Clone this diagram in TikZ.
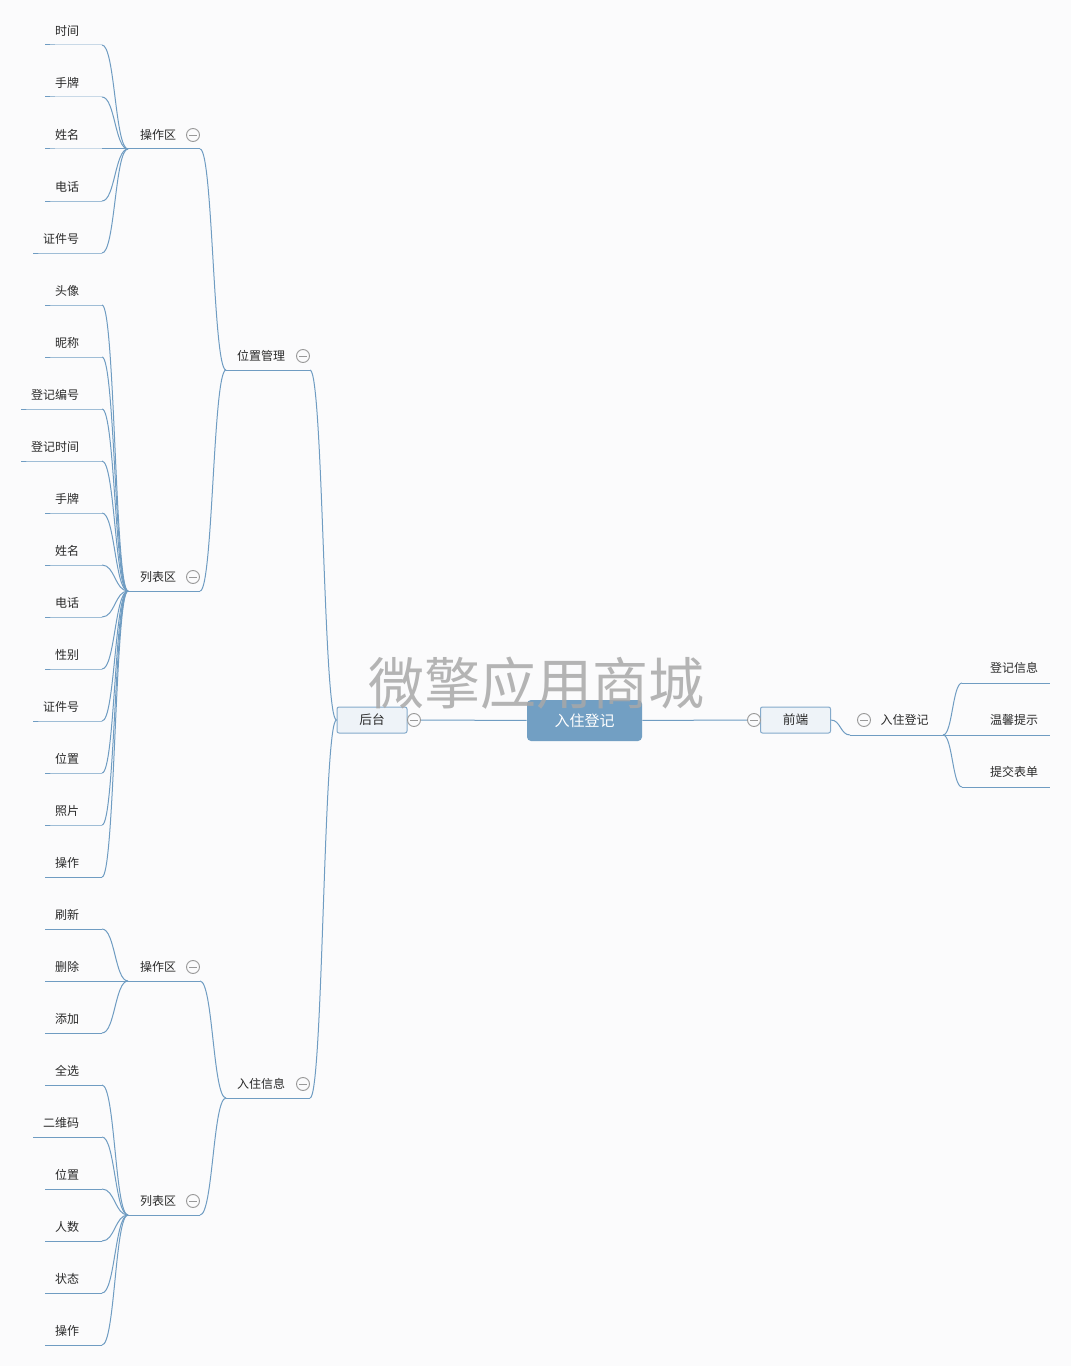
\documentclass[tikz,border=0pt]{standalone}
\usepackage{fontspec}
\setmainfont{Noto Sans CJK SC}
\usetikzlibrary{calc}
\definecolor{linkc}{HTML}{6F9CC2}
\definecolor{boxfill}{HTML}{EEF3F8}
\definecolor{boxdraw}{HTML}{84AACB}
\definecolor{mainfill}{HTML}{729FC3}
\definecolor{txtc}{HTML}{2A2A2A}
\definecolor{bgc}{HTML}{FBFBFC}
\definecolor{togc}{HTML}{999999}
\definecolor{wmc}{HTML}{A8A8A8}
\tikzset{
 txt/.style={font=\fontsize{9pt}{10pt}\selectfont, text=txtc, inner sep=0pt},
 link/.style={draw=linkc, line width=0.75pt},
 toggle/.style={circle, draw=togc, fill=bgc, line width=0.7pt, minimum size=9.75pt, inner sep=0pt,
   path picture={\draw[togc, line width=0.7pt] ([xshift=-3pt]path picture bounding box.center) -- ([xshift=3pt]path picture bounding box.center);}},
 subbox/.style={draw=boxdraw, fill=boxfill, line width=0.75pt, rounded corners=1.5pt, minimum width=52.5pt, minimum height=19.5pt, inner sep=0pt, font=\fontsize{9.5pt}{10pt}\selectfont, text=txtc},
 rootbox/.style={fill=mainfill, rounded corners=3pt, minimum width=86.25pt, minimum height=30.75pt, inner sep=0pt, text=white, font=\fontsize{11.25pt}{12pt}\selectfont},
 wmark/.style={font=\fontsize{42pt}{42pt}\selectfont, text=wmc, text opacity=0.85, inner sep=0pt},
}
\newcommand\leafL[3]{%
 \node[txt, anchor=east] (#1) at (79.5,#2-14) {#3};
 \coordinate (#1-r) at (102,#2);
 \draw[link] (#1-r) -- (#1-r -| #1.west) -- ++(-10,0);
}
\newcommand\leafR[3]{%
 \node[txt] (#1) at (1014,#2-15) {#3};
 \coordinate (#1-l) at (962,#2);
 \coordinate (#1-r) at (1050,#2);
 \draw[link] (#1-l) -- (#1-r);
}
\newcommand\midnode[6]{%
 \node[txt] (#1) at (#5,#4-14) {#6};
 \coordinate (#1-l) at (#2,#4);
 \coordinate (#1-r) at (#3,#4);
 \draw[link] (#1-l) -- (#1-r);
 \node[toggle] (#1-t) at (#3-7,#4-14) {};
}
\newcommand\conn[2]{%
 \path ($(#1)!0.5!(#2)$) coordinate (cm);
 \draw[link] (#1) .. controls (cm |- #1) and (cm |- #2) .. (#2);
}
\begin{document}
\begin{tikzpicture}[x=0.75pt,y=-0.75pt]
\fill[bgc] (0,0) rectangle (1071,1366);
\useasboundingbox (0,0) rectangle (1071,1366);

% root and first level
\node[rootbox] (root) at (584.5,720.5) {入住登记};
\node[subbox] (ht) at (372,720) {后台};
\node[subbox] (qd) at (795.5,720) {前端};
\draw[link] (root) -- (ht);
\draw[link] (root) -- (qd);
\node[toggle] (htt) at (414,720) {};
\node[toggle] (qdt) at (754,720) {};

% second level (left)
\midnode{wz}{226}{310}{370}{261}{位置管理}
\midnode{rz}{226}{310}{1098}{261}{入住信息}
\conn{wz-r}{ht.west}
\conn{rz-r}{ht.west}

% third level (left)
\midnode{opA}{128}{200}{149}{158}{操作区}
\midnode{lbA}{128}{200}{591}{158}{列表区}
\midnode{opB}{128}{200}{981}{158}{操作区}
\midnode{lbB}{128}{200}{1215}{158}{列表区}
\conn{opA-r}{wz-l}
\conn{lbA-r}{wz-l}
\conn{opB-r}{rz-l}
\conn{lbB-r}{rz-l}

% leaves
\foreach \n/\y/\t in {a1/45/时间, a2/97/手牌, a3/149/姓名, a4/201/电话, a5/253/证件号}{
 \leafL{\n}{\y}{\t}
 \conn{\n-r}{opA-l}
}
\foreach \n/\y/\t in {b1/305/头像, b2/357/昵称, b3/409/登记编号, b4/461/登记时间, b5/513/手牌, b6/565/姓名, b7/617/电话, b8/669/性别, b9/721/证件号, b10/773/位置, b11/825/照片, b12/877/操作}{
 \leafL{\n}{\y}{\t}
 \conn{\n-r}{lbA-l}
}
\foreach \n/\y/\t in {c1/929/刷新, c2/981/删除, c3/1033/添加}{
 \leafL{\n}{\y}{\t}
 \conn{\n-r}{opB-l}
}
\foreach \n/\y/\t in {d1/1085/全选, d2/1137/二维码, d3/1189/位置, d4/1241/人数, d5/1293/状态, d6/1345/操作}{
 \leafL{\n}{\y}{\t}
 \conn{\n-r}{lbB-l}
}

% right side
\node[txt] (rr) at (904.5,720) {入住登记};
\coordinate (rr-l) at (850,735);
\coordinate (rr-r) at (943,735);
\draw[link] (rr-l) -- (rr-r);
\node[toggle] (rr-t) at (864,720) {};
\conn{qd.east}{rr-l}
\foreach \n/\y/\t in {e1/683/登记信息, e2/735/温馨提示, e3/787/提交表单}{
 \leafR{\n}{\y}{\t}
 \conn{rr-r}{\n-l}
}

% watermark
\node[wmark] (wm) at (536,683) {微擎应用商城};
\end{tikzpicture}
\end{document}
